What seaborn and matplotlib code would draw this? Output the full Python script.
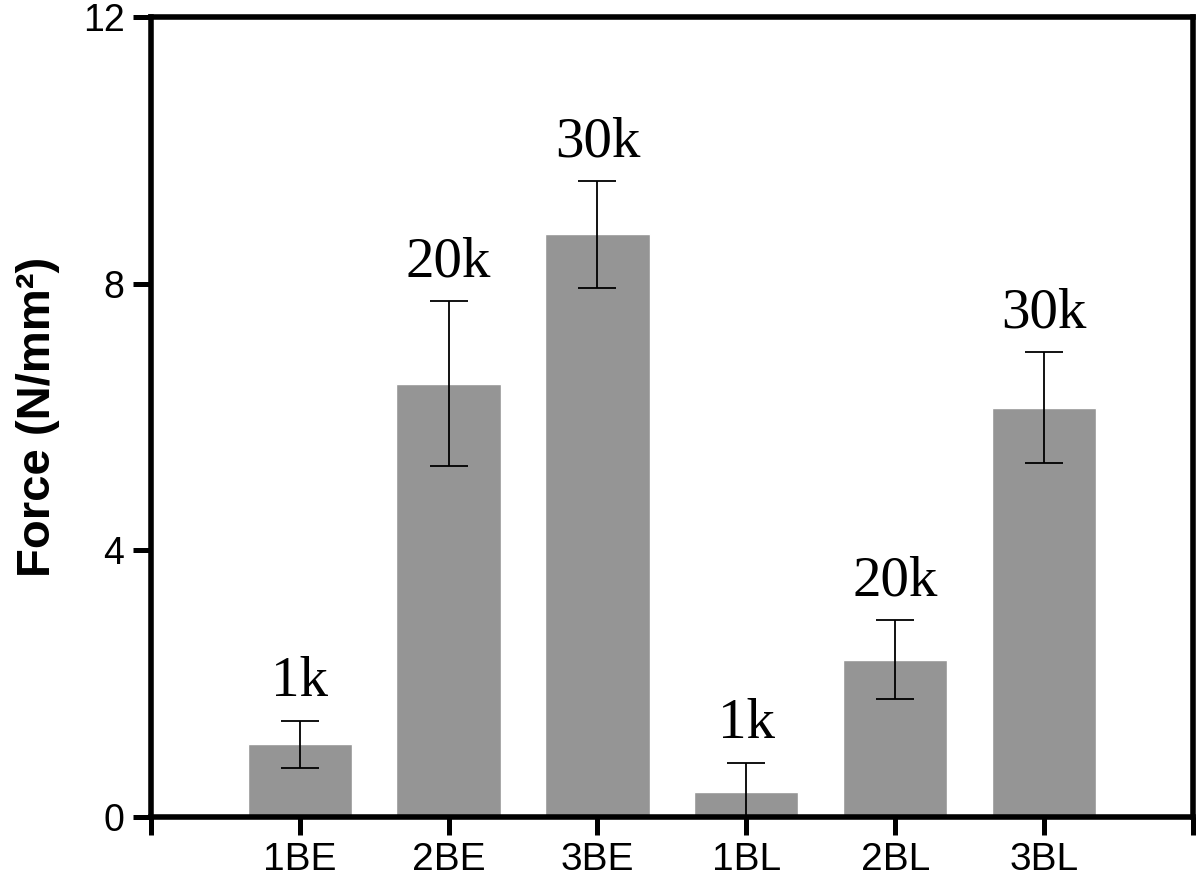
import matplotlib
matplotlib.use("Agg")
import matplotlib.pyplot as plt
import seaborn as sns
import pandas as pd

samples = ["1BE", "2BE", "3BE", "1BL", "2BL", "3BL"]
force = [1.09, 6.50, 8.74, 0.38, 2.36, 6.14]
force_err = [0.35, 1.24, 0.80, 0.43, 0.59, 0.83]
mw_labels = ["1k", "20k", "30k", "1k", "20k", "30k"]
y_ticks = [0, 4, 8, 12]

df = pd.DataFrame({"sample": samples, "force": force, "err": force_err})

sns.set_style("ticks")
plt.rcParams["font.family"] = ["Liberation Sans", "DejaVu Sans"]
plt.rcParams["text.color"] = "black"
plt.rcParams["axes.labelcolor"] = "black"
plt.rcParams["xtick.color"] = "black"
plt.rcParams["ytick.color"] = "black"

fig = plt.figure(figsize=(11.97, 8.81), dpi=100)
ax = fig.add_axes([0.126, 0.0726, 0.9967 - 0.126, 0.9807 - 0.0726])

sns.barplot(data=df, x="sample", y="force", color="#959595", saturation=1,
            width=0.7, errorbar=None, ax=ax)
ax.errorbar(range(len(samples)), df["force"], yerr=df["err"], fmt="none",
            ecolor="black", elinewidth=1.3, capsize=13.5, capthick=1.3)

# molecular weight labels above the error bars
for i, (m, e, lab) in enumerate(zip(force, force_err, mw_labels)):
    ax.annotate(lab, (i, m + e), xytext=(0, 18), textcoords="offset points",
                ha="center", va="baseline", fontsize=41, color="black",
                family="Liberation Serif")

ax.set_xlim(-1, len(samples))
ax.set_xticks(range(-1, len(samples) + 1))
ax.set_xticklabels([""] + samples + [""])
ax.set_ylim(0, 12)
ax.set_yticks(y_ticks)

ax.set_xlabel("")
ax.set_ylabel("Force (N/mm²)", fontsize=34, fontweight="bold", labelpad=16)

for s in ax.spines.values():
    s.set_visible(True)
    s.set_linewidth(4)
    s.set_color("black")

ax.tick_params(axis="x", length=13, width=3.6, labelsize=28, pad=5,
               colors="black")
ax.tick_params(axis="y", length=13, width=3.6, labelsize=27, pad=6,
               colors="black")

fig.savefig("out.png", dpi=100)
